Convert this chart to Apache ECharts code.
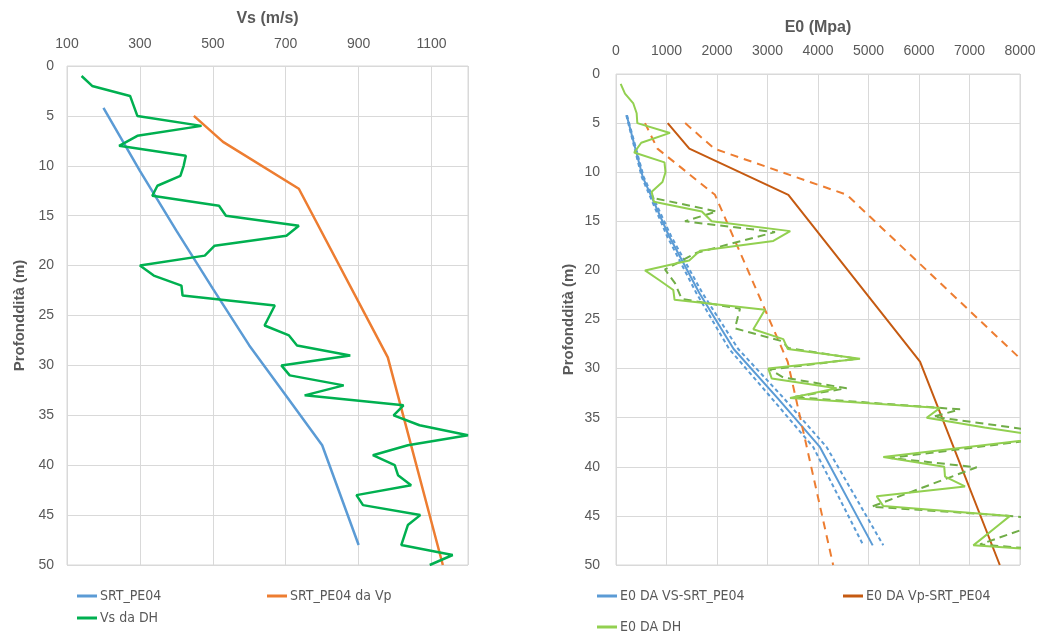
<!DOCTYPE html>
<html>
<head>
<meta charset="utf-8">
<script src="https://cdn.jsdelivr.net/npm/echarts@6.0.0/dist/echarts.min.js"></script>
<style>
  html, body { margin: 0; padding: 0; background: #ffffff; }
  #chart { width: 1041px; height: 635px; }
</style>
</head>
<body>
<div id="chart"></div>
<script>
// ---------- Left panel: Vs profiles (m/s) versus depth (m) ----------
const vsLabelTicks = [100, 300, 500, 700, 900, 1100];
const vsGridTicks = [100, 300, 500, 700, 900, 1100, 1200];

const srtDepth = [4.2, 10.5, 16.5, 22.3, 28, 33, 38, 48];
const srtVs = [200, 300, 400, 500, 600, 700, 800, 900];

const srtVpDepth = [5, 7.6, 12.3, 29.2, 50];
const srtVpVs = [448, 528, 736, 980, 1131];

const dhDepth = [1, 2, 3, 4, 5, 6, 7, 8, 9, 10, 11, 12, 13, 14, 15, 16, 17, 18, 19, 20,
  21, 22, 23, 24, 26, 27, 28, 29, 30, 31, 32, 33, 34, 35, 36, 37, 38, 39, 40, 41,
  42, 43, 44, 45, 46, 48, 49, 50];
const dhVs = [140, 169, 273, 283, 293, 469, 293, 243, 426, 420, 411, 348, 334, 517, 536, 736, 702, 505, 478, 300,
  338, 414, 417, 670, 642, 709, 731, 877, 688, 711, 859, 752, 1023, 996, 1067, 1200, 1035, 939, 999, 1008,
  1044, 894, 912, 1069, 1035, 1017, 1158, 1095];

// ---------- Right panel: E0 (MPa) versus depth (m) ----------
const e0Ticks = [0, 1000, 2000, 3000, 4000, 5000, 6000, 7000, 8000];

const e0VsDepth = [4.2, 10.5, 16.5, 22.3, 28, 33, 38, 48];
const e0Vs = [211, 530, 1050, 1650, 2330, 3200, 4040, 5083];
const e0VsLow = [204, 510, 1010, 1590, 2240, 3080, 3907, 4898];
const e0VsHigh = [218, 550, 1090, 1710, 2420, 3320, 4172, 5293];

const e0VpDepth = [5, 7.6, 12.3, 29.3, 50];
const e0Vp = [1023, 1452, 3413, 6020, 7600];
const e0VpLow = [574, 820, 1960, 3400, 4300];
const e0VpHigh = [1370, 1945, 4570, 8070, 10180];

const e0DhDepth = [1, 2, 3, 4, 5, 6, 7, 8, 9, 10, 11, 12, 13, 14, 15, 16, 17, 18, 19, 20,
  21, 22, 23, 24, 26, 27, 28, 29, 30, 31, 32, 33, 34, 35, 36, 37, 39, 40, 41, 42,
  43, 44, 45, 46, 48, 49, 50];
const e0Dh = [93, 178, 343, 409, 422, 1069, 500, 360, 960, 980, 920, 707, 750, 1700, 1894, 3450, 3115, 1663, 1450, 574,
  860, 1135, 1160, 2950, 2719, 3313, 3400, 4832, 3016, 3083, 4370, 3446, 6416, 6152, 7300, 8600, 5293, 6500, 6515, 6911,
  5162, 5293, 7802, 7560, 7076, 10100, 9000];

const e0DhAltDepth = [12.7, 13.7, 14.0, 15.0, 16.1, 18.2, 19.9, 21.3, 22.9, 23.9, 25.9, 27.2, 27.9, 29.0, 30.1,
  30.9, 32.0, 32.9, 34.15, 34.9, 36.8, 39.1, 40.05, 44.06, 45.0, 45.4, 47.9, 48.9, 49.9];
const e0DhAlt = [805, 1729, 1993, 1366, 3148, 1600, 970, 1168, 1300, 2455, 2356, 3281, 3412, 4766, 3050,
  3313, 4568, 3511, 6812, 6284, 9000, 5426, 7142, 5063, 7802, 8600, 7208, 9500, 9000];

const depthTicks = 5;

// ---------- styling ----------
const FONT = "'Liberation Sans', Arial, sans-serif";
const LEGEND_FONT = "'Liberation Sans Narrow', 'DejaVu Sans Condensed', 'Liberation Sans', sans-serif";
const TEXT = '#595959';
const GRID_LINE = '#D9D9D9';
const BLUE = '#5B9BD5';
const ORANGE = '#ED7D31';
const DARK_ORANGE = '#C55A11';
const GREEN = '#00B050';
const LIGHT_GREEN = '#92D050';
const MID_GREEN = '#70AD47';

const plain = v => String(v);
const pairs = (xs, ys) => xs.map((x, i) => [x, ys[i]]);

function line(name, xi, yi, xs, ys, color, width, type) {
  return {
    name: name,
    type: 'line',
    xAxisIndex: xi,
    yAxisIndex: yi,
    data: pairs(xs, ys),
    showSymbol: false,
    symbol: 'none',
    clip: true,
    animation: false,
    lineStyle: { color: color, width: width, type: type || 'solid' },
    itemStyle: { color: color },
    emphasis: { disabled: true }
  };
}

function depthAxis(gridIndex, labelMargin) {
  return {
    type: 'value',
    gridIndex: gridIndex,
    inverse: true,
    min: 0,
    max: 50,
    interval: depthTicks,
    name: 'Profonddità (m)',
    nameLocation: 'middle',
    nameGap: 40,
    nameTextStyle: { fontFamily: FONT, fontWeight: 'bold', fontSize: 15, color: TEXT },
    axisLine: { show: false },
    axisTick: { show: false },
    axisLabel: { margin: labelMargin, fontFamily: FONT, fontSize: 14, color: TEXT, formatter: plain },
    splitLine: { show: true, lineStyle: { color: GRID_LINE, width: 1 } }
  };
}

function legendItem(name, left, top) {
  return {
    data: [name],
    left: left,
    top: top,
    padding: 0,
    icon: 'rect',
    itemWidth: 20,
    itemHeight: 3,
    itemGap: 0,
    selectedMode: false,
    textStyle: { fontFamily: LEGEND_FONT, fontSize: 14, color: TEXT, padding: [0, 0, 0, -2] }
  };
}

const chart = echarts.init(document.getElementById('chart'), null, { renderer: 'canvas' });

chart.setOption({
  backgroundColor: '#ffffff',
  animation: false,
  grid: [
    { left: 67, top: 66, width: 401, height: 499, show: true, borderColor: GRID_LINE, borderWidth: 1, backgroundColor: 'transparent' },
    { left: 616, top: 74, width: 404, height: 491, show: true, borderColor: GRID_LINE, borderWidth: 1, backgroundColor: 'transparent' }
  ],
  xAxis: [
    {
      type: 'value',
      gridIndex: 0,
      position: 'top',
      min: 100,
      max: 1200,
      name: 'Vs (m/s)',
      nameLocation: 'middle',
      nameGap: 39,
      nameTextStyle: { fontFamily: FONT, fontWeight: 'bold', fontSize: 16, color: TEXT },
      axisLine: { show: false },
      axisTick: { show: false, customValues: vsGridTicks },
      axisLabel: { customValues: vsLabelTicks, margin: 15, fontFamily: FONT, fontSize: 14, color: TEXT, formatter: plain },
      splitLine: { show: true, lineStyle: { color: GRID_LINE, width: 1 } }
    },
    {
      type: 'value',
      gridIndex: 1,
      position: 'top',
      min: e0Ticks[0],
      max: e0Ticks[e0Ticks.length - 1],
      interval: 1000,
      name: 'E0 (Mpa)',
      nameLocation: 'middle',
      nameGap: 38,
      nameTextStyle: { fontFamily: FONT, fontWeight: 'bold', fontSize: 16, color: TEXT },
      axisLine: { show: false },
      axisTick: { show: false },
      axisLabel: { margin: 16, fontFamily: FONT, fontSize: 14, color: TEXT, formatter: plain },
      splitLine: { show: true, lineStyle: { color: GRID_LINE, width: 1 } }
    }
  ],
  yAxis: [depthAxis(0, 13), depthAxis(1, 16)],
  legend: [
    legendItem('SRT_PE04', 77, 589),
    legendItem('SRT_PE04 da Vp', 267, 589),
    legendItem('Vs da DH', 77, 611),
    legendItem('E0 DA VS-SRT_PE04', 597, 589),
    legendItem('E0 DA Vp-SRT_PE04', 843, 589),
    legendItem('E0 DA DH', 597, 620)
  ],
  series: [
    // left panel
    line('SRT_PE04', 0, 0, srtVs, srtDepth, BLUE, 2.5),
    line('SRT_PE04 da Vp', 0, 0, srtVpVs, srtVpDepth, ORANGE, 2.5),
    line('Vs da DH', 0, 0, dhVs, dhDepth, GREEN, 2.5),
    // right panel: bounds (dashed) and central estimates
    line('E0 VS min', 1, 1, e0VsLow, e0VsDepth, BLUE, 2, [4, 3]),
    line('E0 VS max', 1, 1, e0VsHigh, e0VsDepth, BLUE, 2, [4, 3]),
    line('E0 DA VS-SRT_PE04', 1, 1, e0Vs, e0VsDepth, BLUE, 2),
    line('E0 Vp min', 1, 1, e0VpLow, e0VpDepth, ORANGE, 2, [8, 6]),
    line('E0 Vp max', 1, 1, e0VpHigh, e0VpDepth, ORANGE, 2, [8, 6]),
    line('E0 DA Vp-SRT_PE04', 1, 1, e0Vp, e0VpDepth, DARK_ORANGE, 2),
    line('E0 DH bis', 1, 1, e0DhAlt, e0DhAltDepth, MID_GREEN, 2, [8, 5]),
    line('E0 DA DH', 1, 1, e0Dh, e0DhDepth, LIGHT_GREEN, 2)
  ]
});
</script>
</body>
</html>
